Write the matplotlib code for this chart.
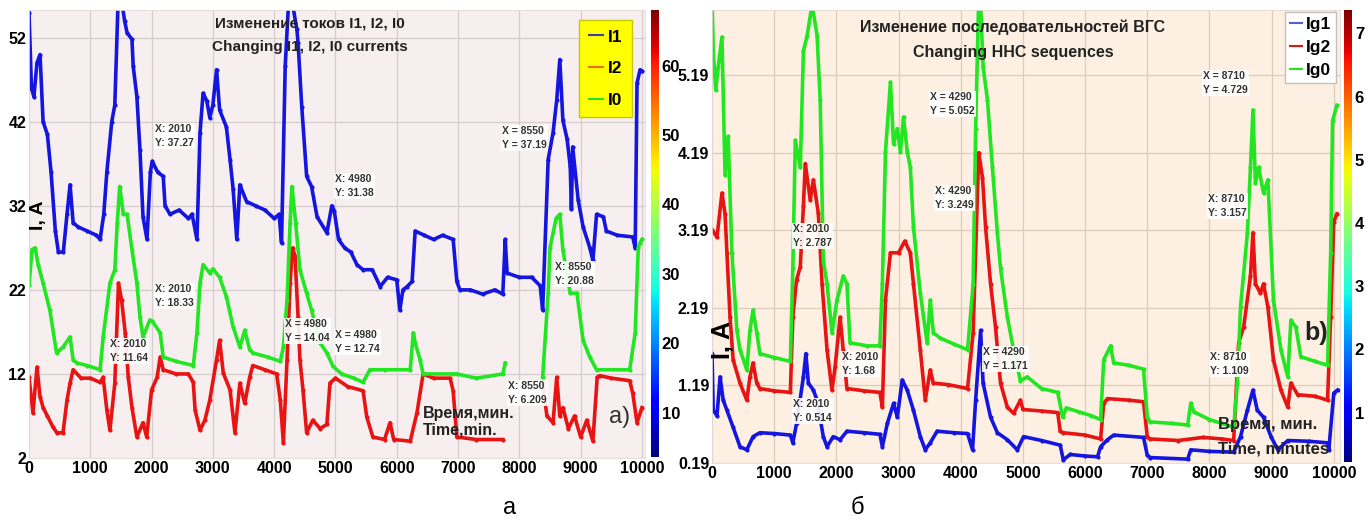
import numpy as np
import matplotlib
matplotlib.use("Agg")
import matplotlib.pyplot as plt
from matplotlib.colors import Normalize
from matplotlib.cm import ScalarMappable

nan = np.nan

# ---- panel a: currents I1, I2, I0 (A) vs time (min) ----
t_i1 = [0, 40, 80, 130, 180, 230, 300, 360, 430, 480, 560, 620, 670, 720, 800, 950, 1100, 1160,
        1220, 1270, 1350, 1400, 1450, 1520, 1560, 1600, 1680, 1700, 1760, 1810, 1860, 1925, 1980,
        2010, 2100, 2190, 2220, 2300, 2450, 2600, 2660, 2740, 2790, 2840, 2900, 2950, 3000, 3060,
        3110, 3220, 3280, 3330, 3390, 3440, 3550, 3700, 3850, 4000, 4080, 4120, 4180, 4230, 4300,
        4370, 4390, 4450, 4530, 4610, 4700, 4860, 4940, 4980, 5050, 5150, 5250, 5350, 5450, 5600,
        5730, 5850, 6000, 6050, 6100, 6170, 6250, 6300, 6450, 6600, 6750, 6920, 6980, 7030, 7200,
        7400, 7600, 7730, 7770, 7800, 8000, 8200, 8340, 8380, 8470, 8550, 8610, 8660, 8710, 8780,
        8830, 8850, 8870, 8960, 9040, 9150, 9200, 9260, 9370, 9420, 9600, 9850, 9890, 9920, 9970,
        10000]
i1 = [55, 46, 45, 49, 50, 42, 40.5, 36, 29, 26.5, 26.5, 31, 34.5, 30, 29.5, 29, 28.5, 28,
      31, 36, 42, 44, 55.5, 56, 54, 52.6, 51.8, 48.6, 45, 38.7, 30.7, 28, 36,
      37.3, 36, 35.5, 32, 31, 31.5, 30.5, 31, 28, 40.7, 45.4, 44.5, 42.5, 44, 48.2,
      43.4, 41.4, 37.5, 34, 28, 34.5, 32.5, 32, 31.5, 30.5, 31, 27.6, 48.6, 55.5, 56,
      53, 51.4, 43.8, 35.5, 34.3, 30.7, 28.8, 32, 31.4, 28, 27, 26.5, 25, 24.4, 24.4,
      22.4, 23.5, 23.2, 19.6, 22, 22.4, 23, 29, 28.5, 28, 28.5, 28, 23, 22, 22,
      21.5, 22, 21.5, 28, 24, 23.5, 23.5, 22.5, 19.6, 37.5, 40.7, 44.6, 49.4, 42.2, 39.9,
      36.7, 31.6, 39, 32.7, 29.5, 27, 25.5, 31, 30.7, 29, 28.5, 28.3, 27, 46.6, 48.2,
      48]

t_i2 = [0, 65, 130, 180, 230, 300, 390, 455, 555, 620, 670, 720, 850, 1000, 1160, 1210, 1270, 1320,
        1400, 1460, 1510, 1570, 1620, 1680, 1760, 1860, 1920, 2000, 2090, 2140, 2190, 2400, 2600,
        2680, 2710, 2790, 2870, 2950, 3060, 3110, 3170, 3280, 3360, 3440, 3520, 3600, 3650, 3850,
        4040, 4100, 4150, 4210, 4260, 4300, 4340, 4390, 4420, 4470, 4530, 4630, 4750, 4860, 4910,
        5000, 5200, 5450, 5510, 5610, 5800, 5890, 5950, 6220, 6330, 6430, 6600, 6870, 6920, 6980,
        7300, 7730, 7760, 8360, 8380, 8450, 8550, 8610, 8660, 8710, 8800, 8900, 9000, 9100, 9200,
        9270, 9310, 9500, 9800, 9850, 9920, 10000]
i2 = [11.6, 7.4, 12.8, 9.3, 8, 7, 5.7, 5, 5, 8.9, 10.9, 12.5, 11.5, 11.5, 11, 11.6, 7.7, 5.3,
      10.9, 22.8, 20.8, 16.9, 11.6, 8, 4.5, 6.2, 4.5, 10.1, 11.6, 14, 12.5, 12, 12,
      11, 7.7, 5.3, 6.5, 8.9, 13.7, 16, 12.1, 10.1, 5, 10.9, 8.5, 11.6, 13, 12.5,
      12, 8.9, 3.8, 13.7, 22.8, 27, 26, 18.8, 13.7, 10.1, 5, 6.5, 5.5, 6, 10.9,
      11.5, 10.5, 10, 6.9, 4.5, 4.2, 6.2, 4.2, 4, 7.4, 12, 11.5, 11.5, 10, 4.5,
      4.2, 4.2, nan, nan, 10.9, 7, 6.2, 11.6, 7, 8, 5.5, 7, 4.5, 6.5, 4,
      11.6, 11.8, 11.5, 11.2, 9.7, 6.2, 8]

t_i0 = [0, 50, 100, 150, 230, 340, 450, 555, 670, 720, 780, 950, 1160, 1210, 1320, 1400, 1440, 1480,
        1540, 1600, 1680, 1760, 1810, 1860, 1970, 2010, 2140, 2190, 2400, 2680, 2740, 2790, 2840,
        2950, 3000, 3110, 3220, 3330, 3440, 3520, 3600, 3650, 3900, 4100, 4150, 4210, 4260, 4290,
        4350, 4420, 4530, 4610, 4750, 4860, 4960, 5100, 5300, 5450, 5560, 5800, 6220, 6270, 6300,
        6380, 6430, 6920, 6980, 7300, 7730, 7770, 7800, 8370, 8380, 8470, 8500, 8600, 8660, 8710,
        8830, 8940, 9040, 9150, 9260, 9800, 9890, 9940, 9970, 10000]
i0 = [22.6, 26.8, 27, 25, 22.8, 19.6, 14.5, 15.2, 16.4, 13.7, 13.3, 13, 12.5, 16.4, 22.8, 24.4, 30, 34.3,
      31, 31, 26.8, 22.8, 18.8, 16.4, 18.4, 18.3, 16.9, 14, 13.5, 13, 16.9, 22.8, 25,
      24, 24.5, 23.5, 21.2, 17.6, 15.2, 17.2, 14.9, 14.5, 14, 13.5, 15.2, 20.8, 30, 34.3,
      30, 24.4, 21.6, 19.6, 15.7, 14.5, 12.9, 12, 11.5, 11, 12.5, 12.5, 12.5, 16.9, 15.7,
      13.7, 12, 12, 12, 11.5, 12, 13.3, nan, nan, 11.6, 21.6, 27, 30.5, 31, 26.8,
      21.6, 21.6, 16, 14, 12.5, 12.5, 16.9, 27, 27.6, 28]

# ---- panel б: HHC sequences Ig1, Ig2, Ig0 (A) vs time (min) ----
t_g1 = [0, 20, 80, 130, 180, 240, 340, 450, 560, 660, 770, 1000, 1260, 1300, 1360, 1470, 1510, 1550,
        1630, 1690, 1790, 1850, 1950, 2060, 2170, 2450, 2700, 2740, 2820, 2920, 2980, 3060, 3140,
        3240, 3350, 3430, 3510, 3620, 3900, 4110, 4190, 4240, 4320, 4360, 4480, 4590, 4750, 4910,
        5010, 5300, 5600, 5650, 5760, 6000, 6200, 6250, 6360, 6460, 6940, 7000, 7050, 7650, 7700,
        8000, 8390, 8500, 8610, 8700, 8770, 8870, 8990, 9100, 9260, 9600, 9900, 9920, 10000, 10060]
g1 = [1.6, 0.87, 0.8, 1.3, 1.0, 0.87, 0.65, 0.4, 0.36, 0.53, 0.58, 0.57, 0.55, 0.45, 0.7, 1.3, 1.6, 1.22,
      1.13, 1.0, 0.53, 0.4, 0.53, 0.49, 0.6, 0.58, 0.56, 0.4, 0.7, 0.96, 0.78, 1.26, 1.13,
      0.87, 0.53, 0.36, 0.45, 0.6, 0.58, 0.57, 0.36, 1.0, 1.9, 1.22, 0.78, 0.58, 0.49, 0.36,
      0.53, 0.48, 0.42, 0.23, 0.3, 0.28, 0.27, 0.4, 0.49, 0.55, 0.52, 0.29, 0.26, 0.24, 0.36,
      0.34, 0.33, 0.53, 0.87, 1.13, 0.87, 0.78, 0.53, 0.36, 0.48, 0.47, 0.45, 0.36, 1.09, 1.13]

t_g2 = [0, 80, 160, 210, 240, 290, 340, 450, 560, 610, 660, 720, 770, 1000, 1260, 1300, 1360, 1420,
        1470, 1500, 1580, 1630, 1710, 1770, 1850, 1930, 1980, 2060, 2110, 2170, 2450, 2700, 2740,
        2790, 2870, 3000, 3100, 3190, 3240, 3350, 3430, 3510, 3560, 3800, 4110, 4200, 4290, 4350,
        4400, 4480, 4560, 4640, 4750, 4850, 4960, 5000, 5300, 5560, 5600, 5650, 6000, 6250, 6300,
        6360, 6700, 6940, 7000, 7050, 7500, 7900, 8200, 8390, 8470, 8550, 8660, 8700, 8740, 8820,
        8870, 8940, 9030, 9150, 9260, 9310, 9420, 9700, 9900, 9950, 10000, 10050]
g2 = [3.2, 3.1, 3.67, 3.4, 2.9, 2.07, 1.52, 1.22, 1.0, 1.3, 1.48, 1.22, 1.15, 1.12, 1.1, 2.07, 2.55, 2.72,
      3.5, 4.05, 3.58, 3.84, 3.41, 2.5, 1.65, 1.13, 1.43, 2.07, 1.65, 1.15, 1.12, 1.1, 0.91,
      2.29, 2.9, 2.9, 3.05, 2.9, 2.5, 1.65, 1.0, 1.39, 1.22, 1.2, 1.15, 1.87, 4.19, 3.87,
      3.23, 2.5, 1.94, 1.22, 0.91, 0.83, 1.0, 0.88, 0.86, 0.84, 0.6, 0.58, 0.55, 0.5, 0.96,
      1.02, 1.0, 0.98, 0.53, 0.5, 0.48, 0.52, 0.5, 0.48, 1.74, 1.94, 2.6, 3.16, 2.5, 2.38,
      2.5, 2.2, 1.52, 1.13, 0.91, 1.22, 1.07, 1.05, 1.0, 2.07, 3.3, 3.4]

t_g0 = [0, 20, 60, 100, 160, 210, 260, 320, 400, 450, 560, 610, 660, 720, 770, 1000, 1260, 1300,
        1340, 1420, 1470, 1530, 1610, 1690, 1740, 1790, 1850, 1930, 2010, 2110, 2170, 2220, 2500,
        2700, 2740, 2790, 2870, 2920, 2980, 3030, 3080, 3140, 3190, 3240, 3350, 3460, 3510, 3560,
        3670, 3900, 4110, 4200, 4240, 4290, 4320, 4360, 4430, 4510, 4590, 4640, 4750, 4850, 4960,
        5070, 5300, 5560, 5640, 5700, 5900, 6100, 6250, 6300, 6410, 6460, 6700, 6940, 7000, 7050,
        7400, 7650, 7700, 7750, 8000, 8200, 8390, 8450, 8500, 8610, 8660, 8700, 8740, 8790, 8870,
        8940, 9030, 9150, 9260, 9310, 9390, 9470, 9700, 9900, 9950, 9980, 10050]
g0 = [6.2, 5.5, 5.0, 5.3, 5.68, 3.9, 4.4, 2.9, 1.9, 1.65, 1.39, 1.9, 2.16, 1.87, 1.6, 1.55, 1.5, 2.7,
      4.35, 4.0, 5.5, 5.7, 6.1, 5.7, 4.87, 2.8, 2.5, 1.87, 2.29, 2.6, 2.5, 1.74, 1.7,
      1.7, 2.5, 4.2, 5.1, 4.3, 4.5, 4.2, 4.65, 4.2, 4.0, 3.23, 2.38, 1.74, 2.29, 1.87,
      1.8, 1.72, 1.65, 2.5, 4.5, 6.2, 6.1, 5.3, 4.87, 4.0, 3.15, 2.7, 2.07, 1.65, 1.25,
      1.3, 1.15, 1.1, 0.78, 0.9, 0.85, 0.8, 0.75, 1.52, 1.7, 1.48, 1.45, 1.4, 0.78, 0.72,
      0.7, 0.68, 0.96, 0.85, 0.75, 0.7, 0.65, 1.22, 2.2, 3.15, 4.0, 4.74, 3.8, 4.0, 3.67,
      3.84, 2.29, 1.65, 1.3, 2.03, 1.94, 1.56, 1.5, 1.45, 2.9, 4.6, 4.8]

yticks_a = [2, 12, 22, 32, 42, 52]
yticks_b = [0.19, 1.19, 2.19, 3.19, 4.19, 5.19]
xticks = list(range(0, 10001, 1000))
cbar_a_ticks = [10, 20, 30, 40, 50, 60]
cbar_b_ticks = [1, 2, 3, 4, 5, 6, 7]

FONT = ['Liberation Sans', 'DejaVu Sans']
plt.rcParams['font.family'] = FONT
plt.rcParams['font.weight'] = 'bold'

W, H = 1370, 525
fig = plt.figure(figsize=(W / 100, H / 100), dpi=100)
fig.patch.set_facecolor('white')


def box(x0, y0, x1, y1):
    # pixel box (top-left origin) -> figure fraction rect
    return [x0 / W, 1 - y1 / H, (x1 - x0) / W, (y1 - y0) / H]


def ftext(x, y, s, **kw):
    fig.text(x / W, 1 - y / H, s, **kw)


BLUE, RED, GREEN = '#1515e0', '#e81414', '#22e622'

ax1 = fig.add_axes(box(29, 10, 645, 458))
ax2 = fig.add_axes(box(712, 10, 1340, 463))

for ax, fc, gc in [(ax1, '#f7eeef', '#d6cdcd'), (ax2, '#fdf0e2', '#ddccba')]:
    ax.set_facecolor(fc)
    ax.grid(True, color=gc, linewidth=0.9)
    ax.set_axisbelow(True)
    for sp in ax.spines.values():
        sp.set_color('#e2dada')
        sp.set_linewidth(0.6)
    ax.tick_params(length=0, labelsize=11.5, pad=2)
    ax.set_xticks(xticks)

kw = dict(linewidth=2.6, marker='.', markersize=4)
ax1.plot(t_i1, i1, color=BLUE, label='I1', **kw)
ax1.plot(t_i2, i2, color=RED, label='I2', **kw)
ax1.plot(t_i0, i0, color=GREEN, label='I0', **kw)
ax1.set_xlim(0, 10050)
ax1.set_ylim(2, 55.3)
ax1.set_yticks(yticks_a)
ax1.set_yticklabels([str(v) for v in yticks_a])

ax2.plot(t_g1, g1, color=BLUE, label='Ig1', **kw)
ax2.plot(t_g2, g2, color=RED, label='Ig2', **kw)
ax2.plot(t_g0, g0, color=GREEN, label='Ig0', **kw)
ax2.set_xlim(0, 10100)
ax2.set_ylim(0.19, 6.03)
ax2.set_yticks(yticks_b)
ax2.set_yticklabels([f"{v:.2f}" for v in yticks_b])

leg1 = ax1.legend(loc='upper right', bbox_to_anchor=(0.979, 0.978), fontsize=12.5,
                  handlelength=0.8, handletextpad=0.3, labelspacing=0.95, borderpad=0.55,
                  borderaxespad=0,
                  facecolor='#ffff00', edgecolor='#c8c800', framealpha=1, fancybox=False)
leg1.legend_handles[0].set_color('#4040a0')
leg1.legend_handles[1].set_color('#f07010')
for h in leg1.legend_handles:
    h.set_marker('')
    h.set_linewidth(1.5)

leg2 = ax2.legend(loc='upper right', bbox_to_anchor=(0.994, 0.996), fontsize=12.5,
                  handlelength=0.7, handletextpad=0.2, labelspacing=0.45,
                  facecolor='white', edgecolor='#c8c0b8', framealpha=1, fancybox=False,
                  borderpad=0.3, borderaxespad=0)
leg2.legend_handles[0].set_color('#5060d0')
for h in leg2.legend_handles:
    h.set_marker('')
    h.set_linewidth(1.5)

# colorbars
cax1 = fig.add_axes(box(651, 10, 659, 457))
cb1 = fig.colorbar(ScalarMappable(Normalize(3.6, 68), 'jet'), cax=cax1)
cb1.set_ticks(cbar_a_ticks)
cax2 = fig.add_axes(box(1344, 10, 1352, 462))
cb2 = fig.colorbar(ScalarMappable(Normalize(0.22, 7.37), 'jet'), cax=cax2)
cb2.set_ticks(cbar_b_ticks)
for cb in (cb1, cb2):
    cb.outline.set_visible(False)
    cb.ax.tick_params(length=0, labelsize=12, pad=2)

# titles and labels
tkw = dict(ha='center', va='center', fontweight='bold', color='#222222')
ftext(310, 24, 'Изменение токов I1, I2, I0', fontsize=11, **tkw)
ftext(310, 47, 'Changing I1, I2, I0 currents', fontsize=11, **tkw)
ftext(1013, 27, 'Изменение последовательностей ВГС', fontsize=11.5, **tkw)
ftext(1013, 53, 'Changing HHC sequences', fontsize=11.5, **tkw)

ftext(38, 215, 'I, A', fontsize=14, rotation=90, ha='center', va='center', fontweight='bold')
ftext(723, 340, 'I, A', fontsize=18, rotation=90, ha='center', va='center', fontweight='bold')

ftext(423, 422, 'Время,мин.\nTime,min.', fontsize=11.5, ha='left', va='center',
      linespacing=1.15, color='#222222')
ftext(1218, 437, 'Время, мин.\nTime, minutes', fontsize=12, ha='left', va='center',
      linespacing=1.75, color='#222222')
ftext(620, 417, 'a)', fontsize=17, ha='center', va='center', fontweight='normal', color='#333333')
ftext(1316, 333, 'b)', fontsize=18, ha='center', va='center', color='#222222')

ftext(510, 508, 'а', fontsize=17, ha='center', va='center', fontweight='normal')
ftext(857, 508, 'б', fontsize=17, ha='center', va='center', fontweight='normal')

# data tips
tips = [
    (155, 124, 'X: 2010\nY: 37.27'),
    (335, 174, 'X: 4980\nY: 31.38'),
    (502, 126, 'X = 8550\nY = 37.19'),
    (155, 284, 'X: 2010\nY: 18.33'),
    (110, 339, 'X: 2010\nY: 11.64'),
    (285, 319, 'X = 4980\nY = 14.04'),
    (335, 330, 'X = 4980\nY = 12.74'),
    (555, 262, 'X: 8550\nY: 20.88'),
    (508, 381, 'X: 8550\nY: 6.209'),
    (930, 92, 'X = 4290\nY = 5.052'),
    (935, 186, 'X: 4290\nY: 3.249'),
    (793, 224, 'X: 2010\nY: 2.787'),
    (1203, 71, 'X = 8710\nY = 4.729'),
    (1208, 194, 'X: 8710\nY: 3.157'),
    (842, 352, 'X: 2010\nY: 1.68'),
    (793, 399, 'X: 2010\nY: 0.514'),
    (983, 347, 'X = 4290\nY = 1.171'),
    (1210, 352, 'X: 8710\nY: 1.109'),
]
for x, y, s in tips:
    ftext(x, y, s, fontsize=7.5, ha='left', va='top', linespacing=1.45, color='#333333',
          bbox=dict(boxstyle='square,pad=0.12', facecolor='white', edgecolor='none', alpha=0.9),
          zorder=5)

fig.savefig('out.png', dpi=100, facecolor='white')
